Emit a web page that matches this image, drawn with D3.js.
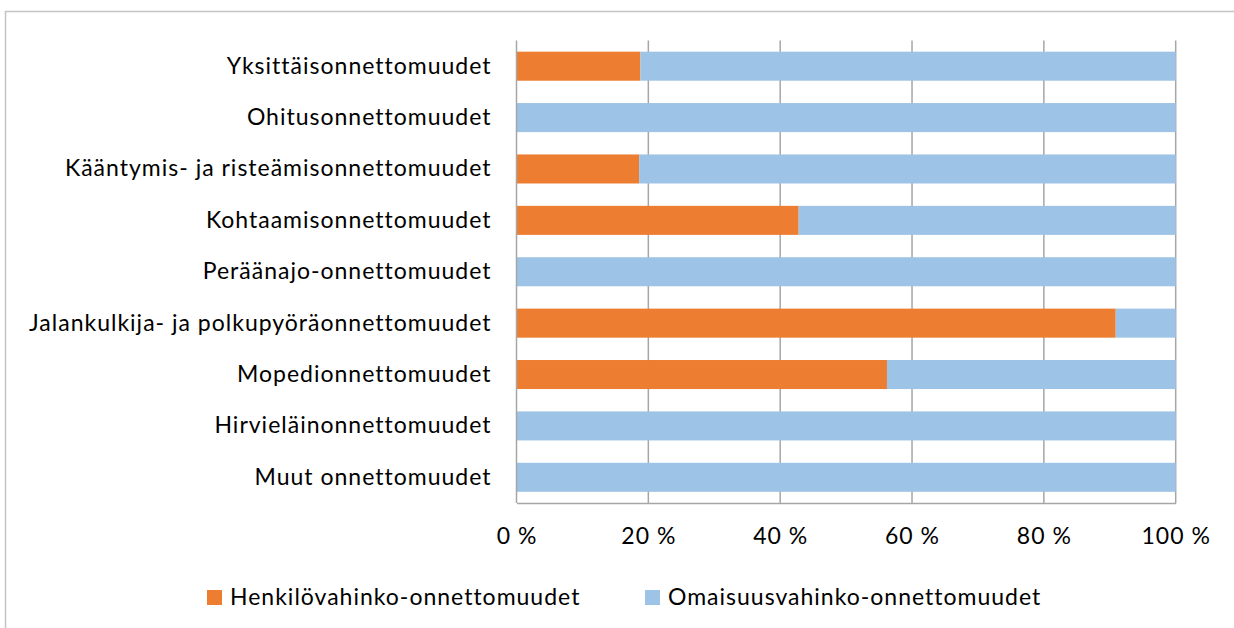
<!DOCTYPE html>
<html><head><meta charset="utf-8">
<script src="https://cdn.jsdelivr.net/npm/d3@7"></script>
<style>body{margin:0;background:#fff}svg{display:block}text{font-family:Lato,"Open Sans",sans-serif;fill:#000}</style>
</head><body><svg id="c" width="1234" height="628"></svg>
<script>
const categories = ["Yksittäisonnettomuudet","Ohitusonnettomuudet","Kääntymis- ja risteämisonnettomuudet","Kohtaamisonnettomuudet","Peräänajo-onnettomuudet","Jalankulkija- ja polkupyöräonnettomuudet","Mopedionnettomuudet","Hirvieläinonnettomuudet","Muut onnettomuudet"];
const henkilo = [18.8, 0, 18.6, 42.8, 0, 90.9, 56.2, 0, 0];
const omaisuus = [81.2, 100, 81.4, 57.2, 100, 9.1, 43.8, 100, 100];
const seriesNames = ["Henkilövahinko-onnettomuudet","Omaisuusvahinko-onnettomuudet"];
const colors = ["#ED7D31","#9DC3E6"];
const xTicks = [0,20,40,60,80,100];

const svg = d3.select("#c");
svg.append("rect").attr("x",5.5).attr("y",11.5).attr("width",1240).attr("height",640).attr("fill","none").attr("stroke","#c4c4c4").attr("stroke-width",1.5);

const x = d3.scaleLinear().domain([0,100]).range([516.5,1175.7]);
const y = d3.scaleBand().domain(categories).range([40.5,503]).paddingInner(0.435).paddingOuter(0.2175);

const g = svg.append("g");
g.selectAll("line.grid").data(xTicks.slice(1)).join("line")
  .attr("x1",d=>x(d)).attr("x2",d=>x(d)).attr("y1",40.5).attr("y2",503)
  .attr("stroke","#a6a6a6").attr("stroke-width",1.5);

const data = categories.map((c,i)=>({c, v:[henkilo[i], omaisuus[i]]}));
const stack = data.map(d=>{let s=0; return d.v.map((v,k)=>{const r={c:d.c,k,x0:s,x1:s+v}; s+=v; return r;});}).flat();
g.selectAll("rect.bar").data(stack.filter(d=>d.x1>d.x0)).join("rect")
  .attr("x",d=>x(d.x0)).attr("width",d=>x(d.x1)-x(d.x0))
  .attr("y",d=>y(d.c)).attr("height",y.bandwidth())
  .attr("fill",d=>colors[d.k]);

g.append("line").attr("x1",516.5).attr("x2",516.5).attr("y1",40.5).attr("y2",503).attr("stroke","#a6a6a6").attr("stroke-width",1.5);
const xAxis = d3.axisBottom(x).tickValues(xTicks).tickFormat(d=>d+" %").tickSize(0).tickPadding(25);
const ax = svg.append("g").attr("transform","translate(0,503)").call(xAxis);
ax.select(".domain").attr("stroke","#a6a6a6").attr("stroke-width",1.5);
ax.selectAll("text").attr("font-size",23).attr("font-family","Lato").attr("letter-spacing","1px").attr("fill","#000");

const yAxis = d3.axisLeft(y).tickSize(0).tickPadding(25);
const ay = svg.append("g").attr("transform","translate(516.5,0)").call(yAxis);
ay.select(".domain").remove();
ay.selectAll("text").attr("font-size",23).attr("font-family","Lato").attr("letter-spacing","1px").attr("fill","#000");

const lg = svg.append("g");
const lx = [207, 645];
seriesNames.forEach((n,i)=>{
  lg.append("rect").attr("x",lx[i]).attr("y",590).attr("width",15).attr("height",15).attr("fill",colors[i]);
  lg.append("text").attr("x",lx[i]+23).attr("y",605).attr("font-size",23).attr("letter-spacing","1px").text(n);
});
</script></body></html>
